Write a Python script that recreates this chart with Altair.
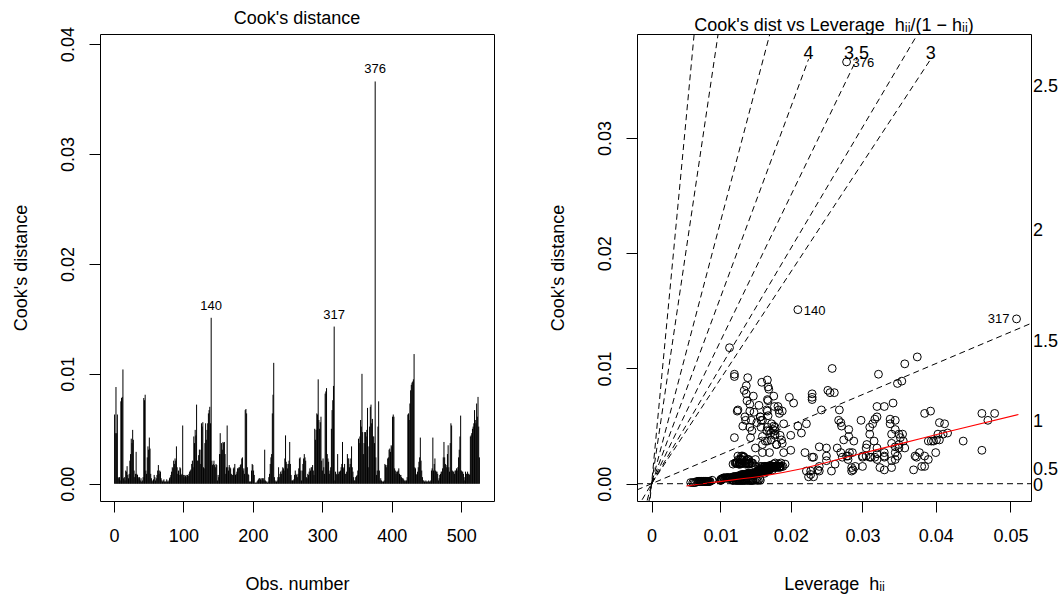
import altair as alt
import pandas as pd

cook_e4 = [
    63, 46, 88, 46, 63, 6, 5, 6, 3, 75,
    78, 79, 104, 5, 6, 3, 12, 11, 16, 8,
    5, 9, 21, 27, 41, 37, 49, 40, 12, 6,
    9, 29, 9, 8, 6, 5, 6, 3, 5, 2,
    3, 6, 78, 76, 81, 12, 9, 24, 34, 31,
    42, 32, 9, 5, 2, 3, 4, 8, 6, 3,
    5, 8, 12, 17, 9, 12, 11, 5, 3, 2,
    3, 4, 2, 2, 2, 4, 2, 3, 2, 5,
    6, 8, 11, 15, 14, 21, 18, 23, 21, 34,
    15, 9, 12, 8, 15, 14, 8, 9, 53, 8,
    6, 8, 7, 8, 6, 8, 7, 9, 11, 12,
    13, 18, 21, 15, 43, 37, 49, 44, 72, 21,
    21, 26, 31, 31, 18, 55, 52, 56, 15, 14,
    37, 55, 40, 49, 55, 64, 67, 70, 55, 151,
    21, 17, 18, 21, 17, 15, 18, 17, 3, 8,
    6, 27, 46, 27, 37, 31, 38, 37, 38, 27,
    9, 15, 53, 15, 12, 17, 15, 14, 9, 8,
    8, 14, 15, 18, 8, 9, 11, 14, 14, 15,
    15, 17, 18, 23, 24, 12, 14, 9, 67, 68,
    64, 15, 9, 8, 2, 2, 2, 12, 18, 17,
    12, 8, 1, 1, 1, 2, 3, 4, 5, 5,
    4, 5, 3, 5, 5, 3, 31, 3, 2, 2,
    1, 2, 6, 9, 18, 24, 27, 64, 81, 110,
    6, 3, 2, 2, 3, 6, 15, 6, 9, 11,
    9, 12, 15, 14, 12, 23, 44, 20, 18, 14,
    18, 21, 38, 18, 8, 3, 3, 3, 4, 8,
    12, 9, 8, 6, 9, 14, 23, 24, 12, 3,
    12, 18, 23, 27, 24, 21, 6, 5, 9, 8,
    11, 14, 12, 15, 15, 17, 12, 8, 50, 40,
    49, 64, 63, 95, 58, 50, 56, 61, 21, 12,
    23, 15, 9, 82, 84, 87, 27, 23, 20, 9,
    12, 15, 50, 67, 76, 89, 143, 3, 11, 9,
    8, 27, 9, 11, 11, 12, 15, 18, 38, 14,
    15, 18, 9, 9, 11, 27, 23, 23, 15, 18,
    23, 34, 15, 11, 6, 3, 3, 6, 7, 8,
    12, 41, 37, 43, 58, 52, 100, 47, 27, 37,
    47, 47, 43, 49, 69, 15, 34, 52, 70, 72,
    55, 59, 43, 43, 37, 366, 24, 8, 12, 52,
    75, 12, 3, 5, 3, 2, 2, 2, 3, 18,
    17, 15, 17, 23, 24, 31, 32, 29, 35, 34,
    61, 63, 61, 14, 12, 9, 11, 11, 12, 14,
    9, 8, 8, 6, 5, 5, 4, 3, 2, 3,
    3, 6, 63, 64, 58, 73, 85, 90, 92, 93,
    95, 118, 15, 14, 8, 9, 11, 15, 20, 24,
    42, 21, 12, 6, 3, 3, 2, 2, 3, 2,
    2, 2, 3, 2, 2, 3, 12, 14, 42, 12,
    18, 23, 12, 11, 11, 9, 3, 5, 8, 9,
    11, 11, 14, 24, 38, 24, 18, 17, 15, 27,
    35, 15, 11, 37, 55, 53, 12, 11, 11, 9,
    12, 12, 14, 12, 15, 24, 31, 43, 62, 12,
    11, 11, 9, 6, 3, 11, 9, 9, 11, 9,
    9, 8, 43, 44, 46, 50, 52, 55, 67, 58,
    55, 73, 61, 79, 52, 24,
]

lev_e4 = [
    188, 145, 159, 178, 124, 132, 118, 232, 128, 230,
    230, 255, 358, 105, 128, 88, 287, 162, 171, 139,
    112, 147, 128, 220, 281, 394, 310, 120, 156, 127,
    149, 200, 163, 135, 122, 110, 131, 142, 104, 75,
    117, 119, 137, 147, 134, 174, 152, 278, 160, 350,
    177, 240, 143, 108, 70, 134, 151, 138, 126, 122,
    115, 134, 165, 183, 145, 158, 167, 113, 146, 78,
    133, 101, 73, 80, 66, 156, 82, 124, 76, 109,
    121, 140, 153, 150, 169, 140, 186, 133, 345, 180,
    172, 150, 161, 130, 240, 162, 136, 142, 152, 228,
    125, 137, 129, 133, 120, 143, 126, 146, 158, 168,
    155, 121, 138, 171, 340, 167, 167, 416, 138, 126,
    390, 320, 305, 150, 178, 136, 314, 317, 164, 159,
    390, 345, 143, 178, 158, 125, 177, 204, 267, 210,
    131, 118, 142, 150, 262, 176, 124, 136, 139, 144,
    128, 270, 170, 330, 288, 320, 172, 356, 405, 378,
    148, 181, 270, 157, 161, 176, 300, 180, 139, 135,
    141, 165, 168, 129, 148, 152, 160, 171, 285, 159,
    163, 192, 141, 134, 300, 157, 168, 143, 320, 155,
    183, 173, 154, 137, 72, 79, 68, 162, 127, 139,
    159, 132, 60, 64, 57, 83, 118, 137, 107, 112,
    103, 117, 131, 114, 106, 149, 265, 127, 74, 81,
    62, 77, 123, 146, 131, 125, 282, 243, 252, 375,
    127, 152, 79, 71, 119, 130, 166, 118, 147, 156,
    151, 166, 184, 170, 330, 310, 215, 137, 123, 172,
    144, 129, 274, 146, 135, 141, 126, 100, 102, 139,
    164, 145, 142, 124, 149, 177, 312, 250, 160, 144,
    158, 135, 232, 400, 130, 280, 225, 111, 153, 144,
    228, 174, 238, 189, 184, 127, 370, 138, 132, 352,
    158, 268, 142, 322, 157, 271, 338, 385, 140, 161,
    330, 178, 150, 169, 168, 348, 286, 133, 340, 146,
    167, 187, 176, 330, 176, 354, 508, 138, 160, 152,
    140, 345, 148, 285, 157, 168, 181, 122, 187, 172,
    385, 145, 151, 140, 158, 160, 317, 374, 163, 128,
    272, 350, 177, 161, 126, 123, 147, 122, 132, 139,
    163, 160, 316, 403, 157, 338, 258, 175, 170, 397,
    345, 281, 310, 142, 142, 381, 180, 173, 342, 168,
    298, 168, 178, 350, 437, 278, 305, 136, 166, 222,
    198, 160, 132, 111, 121, 76, 84, 70, 143, 136,
    126, 172, 141, 230, 348, 250, 345, 462, 188, 306,
    462, 393, 479, 340, 162, 149, 158, 163, 157, 184,
    145, 138, 139, 127, 114, 109, 102, 136, 80, 129,
    154, 125, 167, 166, 320, 230, 137, 167, 139, 120,
    120, 113, 179, 172, 141, 147, 257, 185, 250, 132,
    185, 320, 161, 128, 125, 135, 73, 79, 157, 82,
    77, 85, 130, 69, 75, 100, 165, 170, 200, 156,
    124, 300, 169, 162, 222, 150, 145, 110, 140, 144,
    166, 154, 324, 330, 401, 280, 138, 129, 181, 190,
    340, 290, 159, 164, 470, 405, 161, 156, 152, 148,
    167, 170, 174, 158, 185, 372, 358, 355, 148, 164,
    160, 154, 147, 130, 101, 165, 151, 146, 240, 142,
    140, 137, 410, 172, 166, 210, 412, 144, 182, 135,
    160, 167, 184, 261, 190, 385,
]

id_labels = [140, 317, 376]
id_side = ["right", "left", "right"]

left_ticks_x = [0, 100, 200, 300, 400, 500]
left_ticks_y = [0.0, 0.01, 0.02, 0.03, 0.04]
right_ticks_h = [0.0, 0.01, 0.02, 0.03, 0.04, 0.05]
right_ticks_y = [0.0, 0.01, 0.02, 0.03]

contour_vals = [0, 0.5, 1, 1.5, 2, 2.5, 3, 3.5, 4]
n_coef = 10

smooth_h = [0.00507, 0.00872, 0.01633, 0.02153, 0.02847, 0.0354, 0.04215, 0.05105]
smooth_cook = [-0.0002, 0.0001, 0.0007, 0.0013, 0.0024, 0.0035, 0.0046, 0.0060]

FONT = "Liberation Sans"
FS = 18
PW, PH = 394, 467
TITLE_OFFSET = -15
NB = "\u00a0"

# ---------------- data frames ----------------
n = len(cook_e4)
df = pd.DataFrame({
    "obs": list(range(1, n + 1)),
    "cook": [c / 1e4 for c in cook_e4],
    "h": [v / 1e4 for v in lev_e4],
})
df["zero"] = 0.0
df["g"] = df["h"] / (1 - df["h"])

lab = pd.DataFrame({"obs": id_labels, "side": id_side})
lab = lab.merge(df, on="obs")
lab["txt"] = lab["obs"].astype(str)

# ---------------- left panel ----------------
L_XDOM = [-20, 547]
L_YDOM = [-0.00157, 0.04092]

xl = alt.X("obs:Q", scale=alt.Scale(domain=L_XDOM, nice=False, zero=False),
           axis=alt.Axis(values=left_ticks_x, title="Obs. number", format="d",
                         titleX=PW / 2, titleY=83, titleBaseline="middle",
                         labelPadding=15))
yl = alt.Y("cook:Q", scale=alt.Scale(domain=L_YDOM, nice=False, zero=False),
           axis=alt.Axis(values=left_ticks_y, title="Cook's distance", format=".2f",
                         labelAngle=-90, labelAlign="center", labelBaseline="bottom",
                         labelPadding=12, titleX=-79, titleY=PH / 2,
                         titleBaseline="middle", titleAngle=-90))

spikes = alt.Chart(df).mark_rule(color="black", strokeWidth=1).encode(
    x=xl, y=yl, y2="zero:Q")
left_text = alt.Chart(lab).mark_text(font=FONT, fontSize=13, color="black",
                                      baseline="middle", dy=-12).encode(
    x="obs:Q", y="cook:Q", text="txt:N")

left = alt.layer(spikes, left_text).properties(
    width=PW, height=PH,
    title=alt.TitleParams("Cook's distance", font=FONT, fontSize=FS,
                          fontWeight="normal", color="black", baseline="alphabetic",
                          offset=TITLE_OFFSET, anchor="middle", frame="group"))

# ---------------- right panel ----------------
R_XDOM = [-0.00214, 0.05564]
R_YDOM = [-0.0015, 0.03902]
xmax, ymax = R_XDOM[1], R_YDOM[1]

tick_g = [a / (1 - a) for a in right_ticks_h]

xr = alt.X("g:Q", scale=alt.Scale(domain=R_XDOM, nice=False, zero=False),
           axis=alt.Axis(values=tick_g, title="Leverage" + NB + NB + "hᵢᵢ",
                         labelExpr="datum.value < 1e-9 ? '0' : format(datum.value/(1+datum.value), '.2f')",
                         titleX=PW / 2, titleY=83, titleBaseline="middle",
                         labelPadding=15))
yr = alt.Y("cook:Q", scale=alt.Scale(domain=R_YDOM, nice=False, zero=False),
           axis=alt.Axis(values=right_ticks_y, title="Cook's distance", format=".2f",
                         labelAngle=-90, labelAlign="center", labelBaseline="bottom",
                         labelPadding=12, titleX=-79, titleY=PH / 2,
                         titleBaseline="middle", titleAngle=-90))

pts = alt.Chart(df).mark_point(shape="circle", filled=False, color="black",
                               size=62, strokeWidth=1, opacity=1).encode(x=xr, y=yr)

smooth_df = pd.DataFrame({"h": smooth_h, "cook": smooth_cook})
smooth_df["g"] = smooth_df["h"] / (1 - smooth_df["h"])
smooth = alt.Chart(smooth_df).mark_line(color="red", strokeWidth=1.1,
                                        interpolate="monotone").encode(x="g:Q", y="cook:Q")

seg_rows, right_lab_rows, top_lab_rows = [], [], []
for i, b in enumerate(contour_vals):
    bi2 = b * b
    if n_coef * ymax > bi2 * xmax:
        for xv in (R_XDOM[0], xmax):
            seg_rows.append({"id": i, "g": xv, "cook": bi2 * xv})
        right_lab_rows.append({"g": xmax + 0.0003, "cook": bi2 * 0.0553 / n_coef,
                               "txt": f"{b:g}"})
    else:
        yi = 0.03683
        xi = n_coef * yi / bi2
        seg_rows.append({"id": i, "g": 0.0, "cook": 0.0})
        seg_rows.append({"id": i, "g": xi, "cook": yi})
        top_lab_rows.append({"g": xi, "cook": 0.03685, "txt": f"{b:g}"})

segs = alt.Chart(pd.DataFrame(seg_rows)).mark_line(
    color="black", strokeWidth=1, strokeDash=[6, 4], clip=True).encode(
    x="g:Q", y="cook:Q", detail="id:N")
rlabs = alt.Chart(pd.DataFrame(right_lab_rows)).mark_text(
    font=FONT, fontSize=FS, color="black", align="left", baseline="middle", dy=2).encode(
    x="g:Q", y="cook:Q", text="txt:N")
tlabs = alt.Chart(pd.DataFrame(top_lab_rows)).mark_text(
    font=FONT, fontSize=FS, color="black", align="center", baseline="alphabetic").encode(
    x="g:Q", y="cook:Q", text="txt:N")

id_r = alt.Chart(lab[lab["side"] == "right"]).mark_text(
    font=FONT, fontSize=13, color="black", align="left", baseline="middle", dx=6, dy=1).encode(
    x="g:Q", y="cook:Q", text="txt:N")
id_l = alt.Chart(lab[lab["side"] == "left"]).mark_text(
    font=FONT, fontSize=13, color="black", align="right", baseline="middle", dx=-7, dy=0).encode(
    x="g:Q", y="cook:Q", text="txt:N")

right = alt.layer(pts, smooth, segs, rlabs, tlabs, id_r, id_l).properties(
    width=PW, height=PH,
    title=alt.TitleParams("Cook's dist vs Leverage" + NB + NB + "hᵢᵢ/(1 − hᵢᵢ)", font=FONT,
                          fontSize=FS, fontWeight="normal", color="black",
                          baseline="alphabetic", offset=TITLE_OFFSET, anchor="middle",
                          frame="group"))

chart = alt.hconcat(left, right, spacing=143, bounds="flush").properties(
    padding={"left": 11, "top": 9, "right": 0, "bottom": 0},
    background="white",
).configure_view(stroke="black", strokeWidth=1).configure_axis(
    labelFont=FONT, labelFontSize=FS, labelColor="black",
    titleFont=FONT, titleFontSize=FS, titleFontWeight="normal", titleColor="black",
    tickColor="black", tickSize=11, tickWidth=1, domain=False, grid=False,
)

chart.save("out.html", embed_options={"renderer": "svg", "actions": False})
